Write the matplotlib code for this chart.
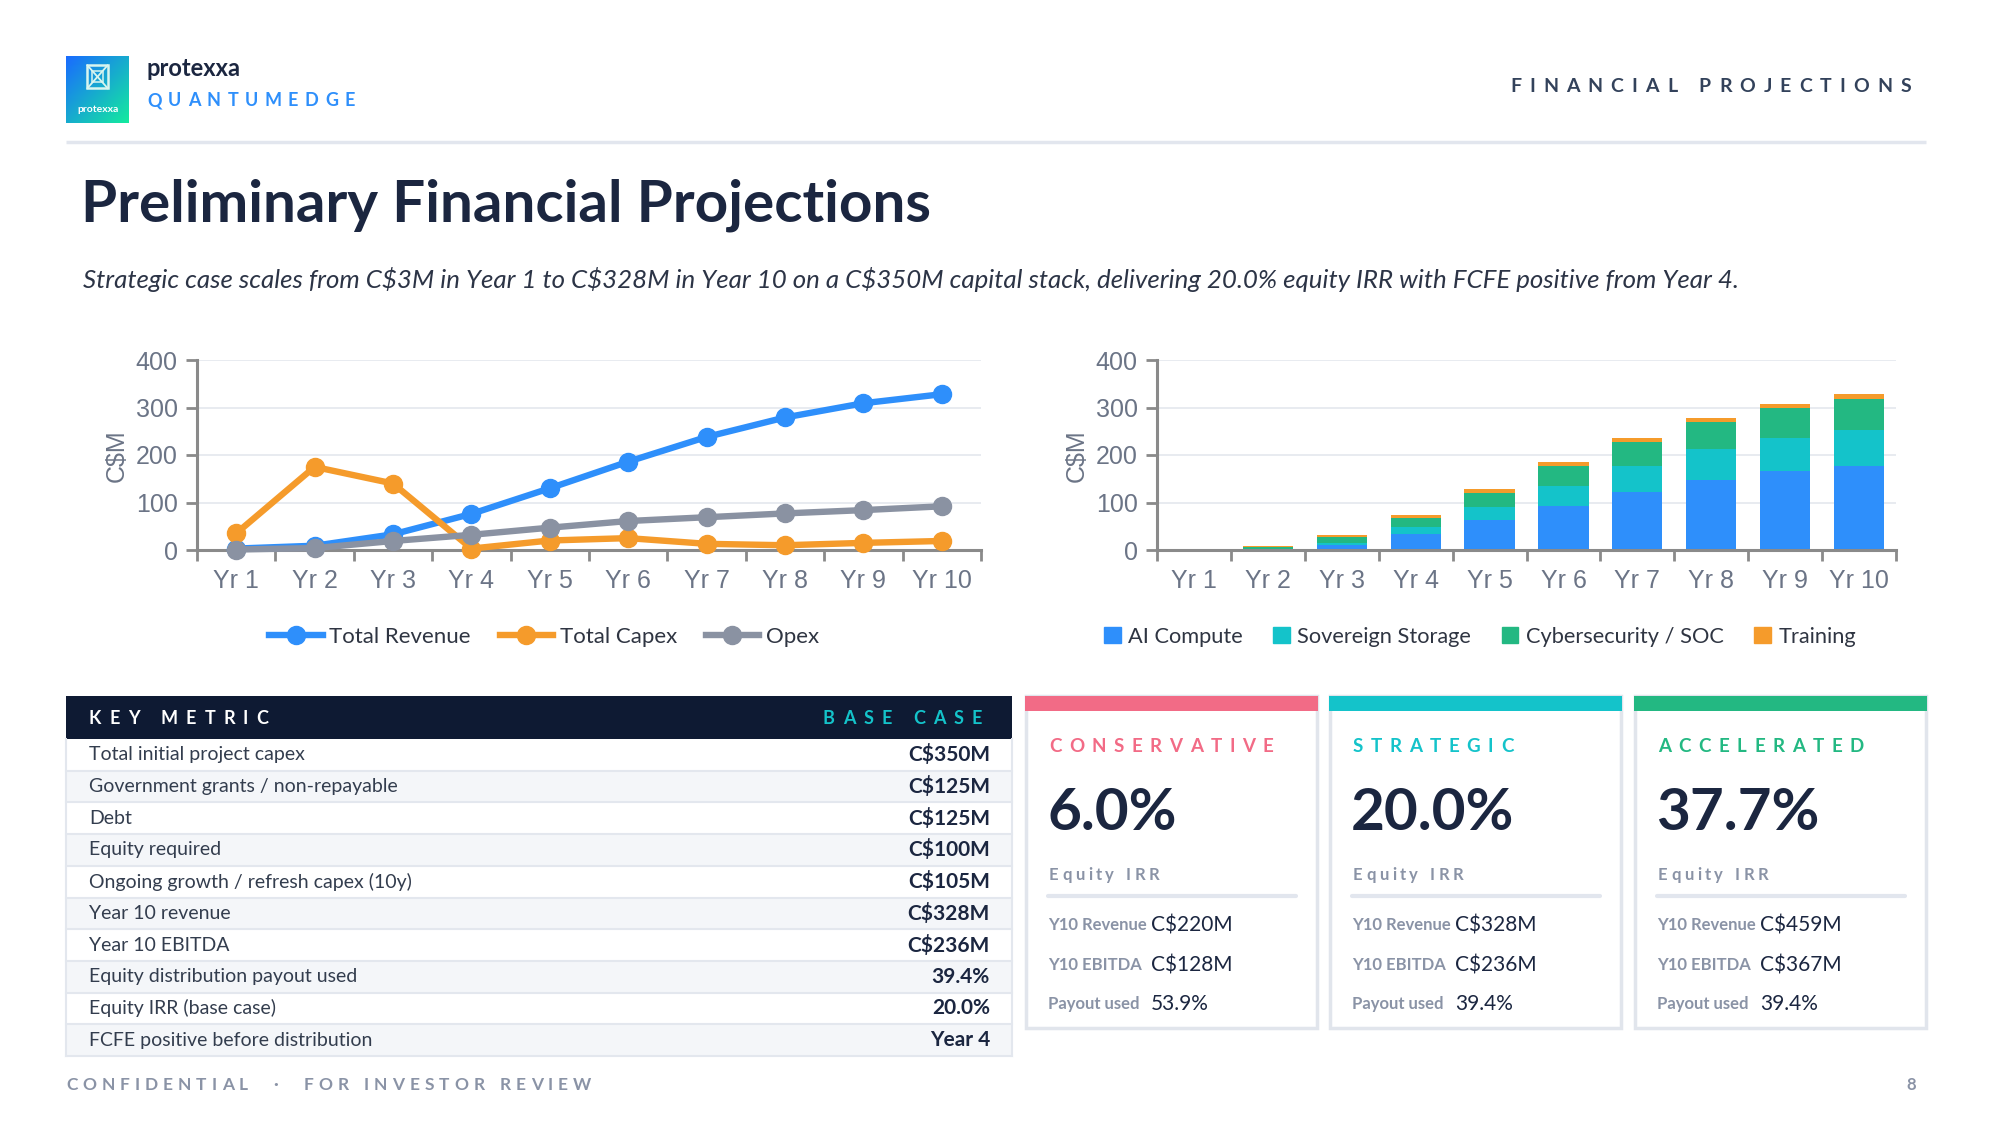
import numpy as np
import matplotlib.pyplot as plt
from matplotlib.patches import Rectangle, Patch
from matplotlib.lines import Line2D

plt.rcParams['text.parse_math'] = False

W, H = 2000, 1125
TXT = ['Lato', 'DejaVu Sans']
CHT = ['Liberation Sans', 'DejaVu Sans']

# ---- data ----
years = ["Yr 1", "Yr 2", "Yr 3", "Yr 4", "Yr 5", "Yr 6", "Yr 7", "Yr 8", "Yr 9", "Yr 10"]
revenue = [3, 9, 33, 76, 130, 186, 238, 279, 309, 328]
capex = [35, 175, 140, 3, 20, 25, 13, 10, 15, 19]
opex = [1, 4, 19, 32, 47, 61, 69, 77, 84, 92]

ai_compute = [0, 1, 10, 34, 63, 93, 122, 147, 166, 177]
storage = [1, 2, 4, 14, 27, 42, 55, 66, 70, 76]
cyber = [1, 3, 13, 20, 30, 42, 51, 57, 63, 65]
training = [1, 3, 5, 6, 8, 8, 8, 8, 8, 10]
segment_names = ["AI Compute", "Sovereign Storage", "Cybersecurity / SOC", "Training"]

metric_labels = ["Total initial project capex", "Government grants / non-repayable", "Debt",
                 "Equity required", "Ongoing growth / refresh capex (10y)", "Year 10 revenue",
                 "Year 10 EBITDA", "Equity distribution payout used", "Equity IRR (base case)",
                 "FCFE positive before distribution"]
metric_values = ["C$350M", "C$125M", "C$125M", "C$100M", "C$105M", "C$328M", "C$236M",
                 "39.4%", "20.0%", "Year 4"]

scenarios = ["CONSERVATIVE", "STRATEGIC", "ACCELERATED"]
scenario_irr = ["6.0%", "20.0%", "37.7%"]
scenario_rev = ["C$220M", "C$328M", "C$459M"]
scenario_ebitda = ["C$128M", "C$236M", "C$367M"]
scenario_payout = ["53.9%", "39.4%", "39.4%"]

BLUE = '#2e8ffb'
ORANGE = '#f59b2b'
GREY = '#8a92a2'
TEAL = '#14c3ca'
GREEN = '#23b882'
PINK = '#f26b86'
NAVY = '#1b2640'
MUTED = '#8a93a6'
scenario_colors = [PINK, TEAL, GREEN]

fig = plt.figure(figsize=(20, 11.25), dpi=100)
bg = fig.add_axes([0, 0, 1, 1])
bg.set_xlim(0, W)
bg.set_ylim(H, 0)
bg.axis('off')
renderer = fig.canvas.get_renderer()


def spaced(x, y, s, track, ha='left', **kw):
    """draw text letter by letter with extra tracking (px)"""
    size_px = kw.get('fontsize', 12) * 100 / 72
    widths = []
    for ch in s:
        if ch == ' ':
            widths.append(size_px * 0.3)
            continue
        t = bg.text(0, 0, ch, **kw)
        widths.append(t.get_window_extent(renderer).width)
        t.remove()
    total = sum(widths) + track * (len(s) - 1)
    if ha == 'right':
        x = x - total
    for ch, w in zip(s, widths):
        if ch != ' ':
            bg.text(x, y, ch, ha='left', va='center', **kw)
        x += w + track


def box(x0, y0, x1, y1, **kw):
    bg.add_patch(Rectangle((x0, y0), x1 - x0, y1 - y0, **kw))


# ---- header ----
logo = fig.add_axes([66 / W, 1 - 123 / H, 63 / W, 67 / H])
gx, gy = np.meshgrid(np.linspace(0, 1, 60), np.linspace(0, 1, 60))
t = np.clip((gx + (1 - gy)) / 2, 0, 1)
c0 = np.array([0.10, 0.42, 1.0])
c1 = np.array([0.08, 0.92, 0.62])
img = c0[None, None, :] * (1 - t[..., None]) + c1[None, None, :] * t[..., None]
logo.imshow(img, extent=(0, 1, 0, 1), origin='lower', aspect='auto')
logo.set_xlim(0, 1)
logo.set_ylim(0, 1)
logo.axis('off')
ic = '#d8f5ef'
logo.add_patch(Rectangle((0.34, 0.52), 0.32, 0.34, fill=False, ec=ic, lw=1.8))
logo.plot([0.34, 0.66], [0.52, 0.86], color=ic, lw=1.3)
logo.plot([0.34, 0.66], [0.86, 0.52], color=ic, lw=1.3)
logo.add_patch(Rectangle((0.42, 0.61), 0.16, 0.16, fill=False, ec=ic, lw=1.1))
logo.text(0.5, 0.2, "protexxa", ha='center', va='center', color='white', fontsize=7.5,
          fontweight='bold', family=TXT)

bg.text(146, 69, "protexxa", ha='left', va='center', fontsize=17, fontweight='bold',
        color=NAVY, family=TXT)
spaced(147, 101, "QUANTUMEDGE", 6.5, fontsize=13, fontweight='bold', color=BLUE, family=TXT)
spaced(1911, 86, "FINANCIAL PROJECTIONS", 8, ha='right', fontsize=14, fontweight='bold',
       color='#33425b', family=TXT)
bg.plot([66, 1926], [142, 142], color='#e2e6ee', lw=2.5, solid_capstyle='butt')

bg.text(81, 205, "Preliminary Financial Projections", ha='left', va='center', fontsize=42,
        fontweight='bold', color=NAVY, family=TXT)
bg.text(83, 280, "Strategic case scales from C$3M in Year 1 to C$328M in Year 10 on a C$350M capital "
        "stack, delivering 20.0% equity IRR with FCFE positive from Year 4.",
        ha='left', va='center', fontsize=18.6, style='italic', color='#2c3446', family=TXT)

# ---- charts ----
x = np.arange(len(years))


def style_chart(ax):
    ax.set_xlim(-0.5, 9.5)
    ax.set_ylim(0, 400)
    ax.set_yticks([0, 100, 200, 300, 400])
    ax.set_xticks(x)
    ax.set_xticklabels(years)
    ax.set_xticks(np.arange(-0.5, 10, 1), minor=True)
    ax.tick_params(axis='x', which='major', length=0, pad=14, labelsize=18, labelcolor='#6b7486')
    ax.tick_params(axis='x', which='minor', length=8, width=2, color='#8a8a8a')
    ax.tick_params(axis='y', length=8, width=2, color='#8a8a8a', labelsize=18,
                   labelcolor='#6b7486', pad=6)
    for lab in ax.get_xticklabels() + ax.get_yticklabels():
        lab.set_family(CHT)
    for s in ['top', 'right']:
        ax.spines[s].set_visible(False)
    for s in ['left', 'bottom']:
        ax.spines[s].set_color('#8a8a8a')
        ax.spines[s].set_linewidth(2.2)
    ax.grid(axis='y', color='#e4e7ee', lw=1.2)
    ax.set_axisbelow(True)
    ax.set_facecolor('none')


ax1 = fig.add_axes([197 / W, 1 - 550 / H, (981 - 197) / W, 190 / H])
style_chart(ax1)
series = [(revenue, BLUE, "Total Revenue"), (capex, ORANGE, "Total Capex"), (opex, GREY, "Opex")]
for vals, col, name in series:
    ax1.plot(x, vals, color=col, lw=4.6, marker='o', ms=13, clip_on=False, zorder=3, label=name)
bg.text(117, 456, "C$M", rotation=90, ha='center', va='center', fontsize=18, color='#6b7486',
        family=CHT)
handles = [Line2D([], [], color=c, lw=4.6, marker='o', ms=13) for _, c, _ in series]
ax1.legend(handles, [n for _, _, n in series], loc='center', bbox_to_anchor=(544 / W, 1 - 637 / H),
           bbox_transform=fig.transFigure, ncol=3, frameon=False, handlelength=2.4,
           handletextpad=0.3, columnspacing=1.3, prop={'family': TXT, 'size': 16},
           labelcolor='#2f3542')

ax2 = fig.add_axes([1157 / W, 1 - 550 / H, (1896 - 1157) / W, 190 / H])
style_chart(ax2)
stacks = [ai_compute, storage, cyber, training]
stack_cols = [BLUE, TEAL, GREEN, ORANGE]
bottom = np.zeros(len(years))
for vals, col, name in zip(stacks, stack_cols, segment_names):
    ax2.bar(x, vals, bottom=bottom, width=0.68, color=col, label=name, zorder=2)
    bottom += np.array(vals)
bg.text(1077, 456, "C$M", rotation=90, ha='center', va='center', fontsize=18, color='#6b7486',
        family=CHT)
ph = [Patch(color=c) for c in stack_cols]
ax2.legend(ph, segment_names, loc='center', bbox_to_anchor=(1480 / W, 1 - 637 / H),
           bbox_transform=fig.transFigure, ncol=4, frameon=False, handlelength=0.75,
           handleheight=0.75, handletextpad=0.35, columnspacing=1.4,
           prop={'family': TXT, 'size': 15.7}, labelcolor='#2f3542')

# ---- table ----
tx0, tx1 = 66, 1012
box(tx0, 696, tx1, 739, color='#0e1a33', lw=0)
spaced(89, 718, "KEY METRIC", 8, fontsize=13, fontweight='bold', color='white', family=TXT)
spaced(982, 718, "BASE CASE", 8, ha='right', fontsize=13, fontweight='bold', color=TEAL, family=TXT)
row_h = 31.7
for i, (lab, val) in enumerate(zip(metric_labels, metric_values)):
    top = 739 + i * row_h
    box(tx0, top, tx1, top + row_h, color='#f4f6f9' if i % 2 else 'white', lw=0)
    bg.plot([tx0, tx1], [top + row_h, top + row_h], color='#e3e7ee', lw=1.5)
    bg.text(89, top + row_h / 2, lab, ha='left', va='center', fontsize=14, color='#333d4e',
            family=TXT)
    bg.text(990, top + row_h / 2, val, ha='right', va='center', fontsize=15, fontweight='bold',
            color=NAVY, family=TXT)
bg.plot([tx0, tx0], [739, 739 + 10 * row_h], color='#e3e7ee', lw=1.5)
bg.plot([tx1, tx1], [739, 739 + 10 * row_h], color='#e3e7ee', lw=1.5)

# ---- scenario cards ----
card_x = [1026, 1330, 1635]
cw = 291
for cx, name, irr, rv, eb, po, col in zip(card_x, scenarios, scenario_irr, scenario_rev,
                                          scenario_ebitda, scenario_payout, scenario_colors):
    box(cx, 696, cx + cw, 1028, facecolor='white', edgecolor='#e1e5ec', lw=2.5)
    box(cx - 1, 696, cx + cw + 1, 711, color=col, lw=0)
    spaced(cx + 23, 746, name, 7.5, fontsize=13.5, fontweight='bold', color=col, family=TXT)
    bg.text(cx + 21, 813, irr, ha='left', va='center', fontsize=42, fontweight='bold',
            color=NAVY, family=TXT)
    spaced(cx + 23, 875, "Equity IRR", 3.5, fontsize=12, fontweight='bold', color=MUTED,
           family=TXT)
    bg.plot([cx + 22, cx + 270], [896, 896], color='#e2e6ee', lw=3, solid_capstyle='round')
    for yy, lab, val in [(925, "Y10 Revenue", rv), (965, "Y10 EBITDA", eb), (1004, "Payout used", po)]:
        bg.text(cx + 22, yy, lab, ha='left', va='center', fontsize=12, fontweight='bold',
                color=MUTED, family=TXT)
        bg.text(cx + 125, yy, val, ha='left', va='center', fontsize=15, color=NAVY, family=TXT)

# ---- footer ----
spaced(66, 1085, "CONFIDENTIAL  ·  FOR INVESTOR REVIEW", 5, fontsize=12.5, fontweight='bold',
       color=MUTED, family=TXT)
bg.text(1916, 1085, "8", ha='right', va='center', fontsize=12, fontweight='bold', color=MUTED,
        family=TXT)

fig.savefig("out.png", dpi=100)
